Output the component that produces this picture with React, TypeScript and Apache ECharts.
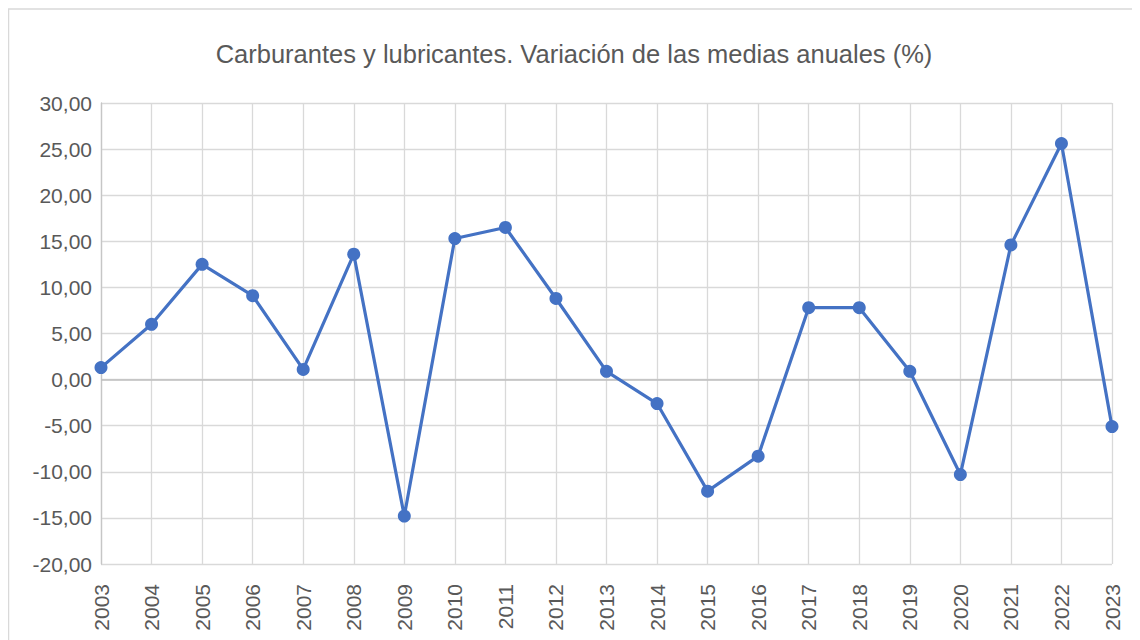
import React, { useEffect, useRef } from "react";
import * as echarts from "echarts";

const titleText = "Carburantes y lubricantes. Variación de las medias anuales (%)";
const years = ["2003","2004","2005","2006","2007","2008","2009","2010","2011","2012","2013","2014","2015","2016","2017","2018","2019","2020","2021","2022","2023"];
const values = [1.3, 6.0, 12.5, 9.1, 1.1, 13.6, -14.8, 15.3, 16.5, 8.8, 0.9, -2.6, -12.1, -8.3, 7.8, 7.8, 0.9, -10.3, 14.6, 25.6, -5.1];
const yMin = -20;
const yMax = 30;
const yStep = 5;

const FONT = "'Liberation Sans', Arial, sans-serif";
const TXT = "#595959";
const GRID = "#d9d9d9";

export default function App() {
  const ref = useRef<HTMLDivElement>(null);
  useEffect(() => {
    if (!ref.current) return;
    const chart = echarts.init(ref.current, null, { renderer: "svg" });
    chart.setOption({
      animation: false,
      backgroundColor: "#ffffff",
      title: {
        text: titleText,
        left: "center",
        top: 28,
        textStyle: { color: TXT, fontFamily: FONT, fontSize: 25.5, fontWeight: "normal" },
      },
      graphic: [
        {
          type: "rect",
          shape: { x: 0.5, y: 1, width: 1300, height: 800 },
          style: { fill: "none", stroke: "#d9d9d9", lineWidth: 1.5 },
          silent: true,
          z: -1,
        },
      ],
      grid: { left: 93, right: 28, top: 95, bottom: 76 },
      xAxis: {
        type: "category",
        data: years,
        boundaryGap: false,
        axisLine: { show: false, onZero: false },
        axisTick: { show: false },
        axisLabel: {
          rotate: 90,
          margin: 20,
          color: TXT,
          fontFamily: FONT,
          fontSize: 21,
        },
        splitLine: { show: true, lineStyle: { color: GRID, width: 1.3 } },
      },
      yAxis: {
        type: "value",
        min: yMin,
        max: yMax,
        interval: yStep,
        axisLine: { show: true, lineStyle: { color: "#c6c6c6", width: 1.3 } },
        axisTick: { show: false },
        axisLabel: {
          color: TXT,
          fontFamily: FONT,
          fontSize: 21,
          margin: 9,
          formatter: (v: number) => v.toFixed(2).replace(".", ","),
        },
        splitLine: { show: true, lineStyle: { color: GRID, width: 1.3 } },
      },
      series: [
        {
          type: "line",
          data: values,
          symbol: "circle",
          symbolSize: 13,
          lineStyle: { color: "#4472C4", width: 3.2 },
          itemStyle: { color: "#4472C4" },
          z: 3,
          markLine: {
            silent: true,
            symbol: ["none", "none"],
            label: { show: false },
            lineStyle: { color: "#bfbfbf", width: 1.5, type: "solid" },
            data: [{ yAxis: 0 }],
            z: 1,
          },
        },
      ],
    });
    return () => chart.dispose();
  }, []);
  return <div ref={ref} style={{ width: 1132, height: 632 }} />;
}
